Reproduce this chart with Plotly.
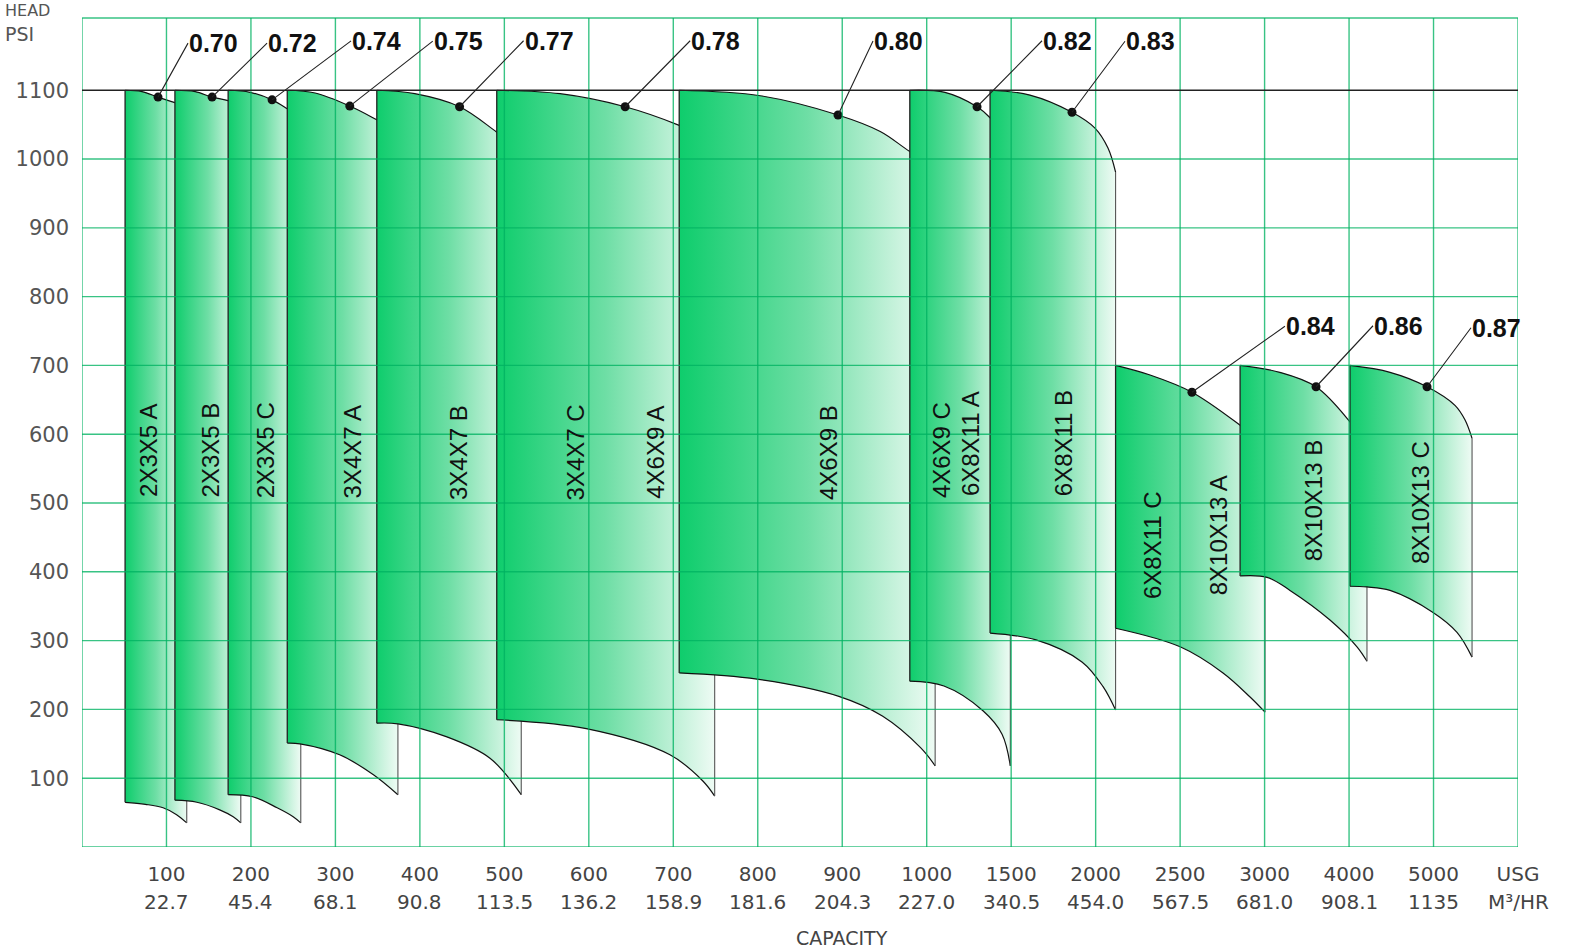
import numpy as np
import plotly.graph_objects as go

# ---------------- axis definitions ----------------
# capacity axis of the chart is piecewise: every tick is one equal grid step
AXIS_USG = [0, 100, 200, 300, 400, 500, 600, 700, 800, 900, 1000,
            1500, 2000, 2500, 3000, 4000, 5000, 6000]
TICK_USG = ["100", "200", "300", "400", "500", "600", "700", "800", "900", "1000",
            "1500", "2000", "2500", "3000", "4000", "5000", "USG"]
TICK_M3 = ["22.7", "45.4", "68.1", "90.8", "113.5", "136.2", "158.9", "181.6", "204.3",
           "227.0", "340.5", "454.0", "567.5", "681.0", "908.1", "1135", "M³/HR"]
HEAD_TICKS = [100, 200, 300, 400, 500, 600, 700, 800, 900, 1000, 1100]

# ---------------- pump coverage data (USG, PSI) ----------------
TOP_USG = [
    [51, 71, 90, 110, 124],
    [110, 134, 154, 173, 188],
    [173, 199, 225, 243, 259],
    [243, 276, 317, 349, 374],
    [349, 394, 447, 491, 520],
    [491, 566, 643, 707, 749],
    [707, 803, 895, 945, 980, 1050],
    [980, 1108, 1298, 1375, 1495],
    [1375, 1611, 1860, 1996, 2073, 2118],
    [2118, 2322, 2570, 2855, 3005],
    [2855, 3180, 3609, 4011, 4212],
    [4011, 4485, 4923, 5254, 5372, 5456],
]
TOP_PSI = [
    [1100, 1098, 1090, 1082, 1077],
    [1100, 1098, 1090, 1085, 1079],
    [1100, 1097, 1086, 1073, 1060],
    [1100, 1096, 1077, 1057, 1040],
    [1100, 1095, 1076, 1039, 1012],
    [1100, 1095, 1076, 1049, 1025],
    [1100, 1092, 1064, 1040, 1011, 990],
    [1100, 1097, 1076, 1060, 1020],
    [1100, 1093, 1068, 1045, 1016, 981],
    [700, 686, 661, 613, 584],
    [700, 690, 669, 618, 584],
    [700, 690, 669, 642, 621, 594],
]
BOTTOM_USG = [
    [51, 75, 96, 112, 124],
    [110, 136, 163, 179, 188],
    [173, 202, 231, 250, 259],
    [243, 258, 305, 345, 374],
    [349, 374, 432, 483, 520],
    [491, 597, 696, 735, 749],
    [707, 799, 896, 948, 993, 1050],
    [980, 1102, 1333, 1446, 1495],
    [1375, 1647, 1919, 2044, 2118],
    [2118, 2500, 2754, 2914, 3005],
    [2855, 3029, 3301, 3774, 4094, 4212],
    [4011, 4212, 4485, 4994, 5278, 5456],
]
BOTTOM_PSI = [
    [65, 62, 57, 47, 35],
    [68, 65, 54, 44, 35],
    [76, 73, 57, 44, 35],
    [151, 150, 134, 105, 76],
    [180, 179, 160, 129, 76],
    [185, 172, 134, 96, 74],
    [253, 244, 219, 190, 144, 118],
    [241, 234, 198, 164, 118],
    [311, 301, 269, 233, 199],
    [318, 291, 253, 218, 196],
    [394, 392, 373, 330, 291, 270],
    [379, 378, 373, 341, 312, 276],
]

# best-efficiency points
EFFICIENCY = [0.70, 0.72, 0.74, 0.75, 0.77, 0.78, 0.80, 0.82, 0.83, 0.84, 0.86, 0.87]
EFF_USG = [90, 154, 225, 317, 447, 643, 895, 1298, 1860, 2570, 3609, 4923]
EFF_PSI = [1090, 1090, 1086, 1077, 1076, 1076, 1064, 1076, 1068, 661, 669, 669]

# pump size labels
PUMP_NAMES = ["2X3X5 A", "2X3X5 B", "2X3X5 C", "3X4X7 A", "3X4X7 B", "3X4X7 C",
              "4X6X9 A", "4X6X9 B", "4X6X9 C", "6X8X11 A", "6X8X11 B",
              "6X8X11 C", "8X10X13 A", "8X10X13 B", "8X10X13 C"]

# ---------------- layout / style (positions of labels) ----------------
NAME_POS_USG = [78, 152, 217, 320, 445, 584, 678, 883, 1085, 1256, 1807,
                2340, 2724, 3573, 4840]
NAME_POS_PSI = [577, 577, 577, 574, 574, 574, 574, 574, 577, 587, 587,
                439, 453, 504, 500]
EFF_LABEL_OFFSET = [(30, -54), (55, -54), (79, -59), (83, -65), (64, -66), (65, -66),
                    (35, -74), (65, -66), (53, -71), (93, -66), (57, -61), (44, -59)]

GRAD = [[0, "rgb(14,205,108)"], [0.5, "rgb(110,222,165)"], [1, "rgb(238,251,244)"]]
GRID = "rgba(0,178,98,0.78)"
LABEL_FONT = "DejaVu Sans, sans-serif"
BOLD_FONT = "Liberation Sans, Arial, sans-serif"
NAME_FONT = "Liberation Sans, Arial, sans-serif"

AXIS_POS = np.arange(len(AXIS_USG), dtype=float)


def xpos(q):
    return np.interp(np.asarray(q, dtype=float), AXIS_USG, AXIS_POS)


fig = go.Figure()

for tq, tp, bq, bp in zip(TOP_USG, TOP_PSI, BOTTOM_USG, BOTTOM_PSI):
    x_top = xpos(tq)
    x_bot = xpos(bq)
    fig.add_trace(go.Scatter(
        x=x_bot, y=bp, mode="lines",
        line=dict(color="#111", width=1.2, shape="spline"),
        hoverinfo="skip", showlegend=False))
    fig.add_trace(go.Scatter(
        x=x_top, y=tp, mode="lines",
        line=dict(color="#111", width=1.2, shape="spline"),
        fill="tonexty",
        fillgradient=dict(type="horizontal", colorscale=GRAD,
                          start=float(x_top[0]), stop=float(x_top[-1])),
        hoverinfo="skip", showlegend=False))
    # left and right edges
    fig.add_trace(go.Scatter(
        x=[x_bot[0], x_top[0]], y=[bp[0], tp[0]], mode="lines",
        line=dict(color="#222", width=1.3), hoverinfo="skip", showlegend=False))
    fig.add_trace(go.Scatter(
        x=[x_top[-1], x_bot[-1]], y=[tp[-1], bp[-1]], mode="lines",
        line=dict(color="#555", width=1.1), hoverinfo="skip", showlegend=False))

# efficiency dots
fig.add_trace(go.Scatter(
    x=xpos(EFF_USG), y=EFF_PSI, mode="markers",
    marker=dict(color="#111", size=9), hoverinfo="skip", showlegend=False))

shapes = []
# vertical grid lines (including frame)
for gx in AXIS_POS:
    shapes.append(dict(type="line", xref="x", yref="paper", x0=gx, x1=gx, y0=0, y1=1,
                       line=dict(color=GRID, width=1.4), layer="above"))
# horizontal grid lines
for gy in [0] + HEAD_TICKS[:-1]:
    shapes.append(dict(type="line", xref="paper", yref="y", x0=0, x1=1, y0=gy, y1=gy,
                       line=dict(color=GRID, width=1.4), layer="above"))
shapes.append(dict(type="line", xref="paper", yref="paper", x0=0, x1=1, y0=1, y1=1,
                   line=dict(color=GRID, width=1.4), layer="above"))
# 1100 psi limit line
shapes.append(dict(type="line", xref="paper", yref="y", x0=0, x1=1, y0=1100, y1=1100,
                   line=dict(color="#222", width=1.6), layer="above"))

annotations = []
for eff, q, p, (ax, ay) in zip(EFFICIENCY, EFF_USG, EFF_PSI, EFF_LABEL_OFFSET):
    annotations.append(dict(
        x=float(xpos(q)), y=p, xref="x", yref="y", text=f"{eff:.2f}",
        showarrow=True, arrowhead=0, arrowwidth=1.1, arrowcolor="#222",
        ax=ax, ay=ay, xanchor="left", yanchor="middle", standoff=0,
        font=dict(family=BOLD_FONT, size=25, color="#111", weight="bold"), borderpad=0))

for name, q, p in zip(PUMP_NAMES, NAME_POS_USG, NAME_POS_PSI):
    annotations.append(dict(
        x=float(xpos(q)), y=p, xref="x", yref="y", text=name, showarrow=False,
        textangle=-90, font=dict(family=NAME_FONT, size=24, color="#111")))

# second row of capacity labels (m3/hr)
for pos, lab in zip(AXIS_POS[1:], TICK_M3):
    annotations.append(dict(
        x=float(pos), y=0, xref="x", yref="paper", text=lab, showarrow=False,
        yanchor="middle", yshift=-55, borderpad=0,
        font=dict(family=LABEL_FONT, size=20, color="#444")))

annotations.append(dict(x=float(xpos(900)), y=0, xref="x", yref="paper", text="CAPACITY",
                        showarrow=False, yanchor="middle", yshift=-91,
                        font=dict(family=LABEL_FONT, size=19, color="#444")))
annotations.append(dict(x=-0.054, y=1.0, xref="paper", yref="paper", text="HEAD",
                        showarrow=False, xanchor="left", yanchor="top", yshift=18,
                        borderpad=0, font=dict(family=LABEL_FONT, size=16, color="#555")))
annotations.append(dict(x=-0.054, y=1.0, xref="paper", yref="paper", text="PSI",
                        showarrow=False, xanchor="left", yanchor="top", yshift=-4,
                        borderpad=0, font=dict(family=LABEL_FONT, size=19, color="#555")))

fig.update_layout(
    width=1570, height=951,
    margin=dict(l=82, r=52, t=18, b=104),
    paper_bgcolor="white", plot_bgcolor="white",
    showlegend=False,
    shapes=shapes, annotations=annotations,
    xaxis=dict(range=[0, 17], tickmode="array", tickvals=list(AXIS_POS[1:]),
               ticktext=TICK_USG, showgrid=False, zeroline=False, showline=False,
               ticks="", ticklabelstandoff=13,
               tickfont=dict(family=LABEL_FONT, size=20, color="#444")),
    yaxis=dict(range=[0, 1205], tickmode="array", tickvals=HEAD_TICKS,
               showgrid=False, zeroline=False, showline=False, ticks="",
               ticklabelstandoff=12,
               tickfont=dict(family=LABEL_FONT, size=21, color="#555")),
)

fig.write_html("out.html",
               config={"displayModeBar": False},
               post_script="document.body.style.margin='0px';"
                           "document.body.style.overflow='hidden';")
